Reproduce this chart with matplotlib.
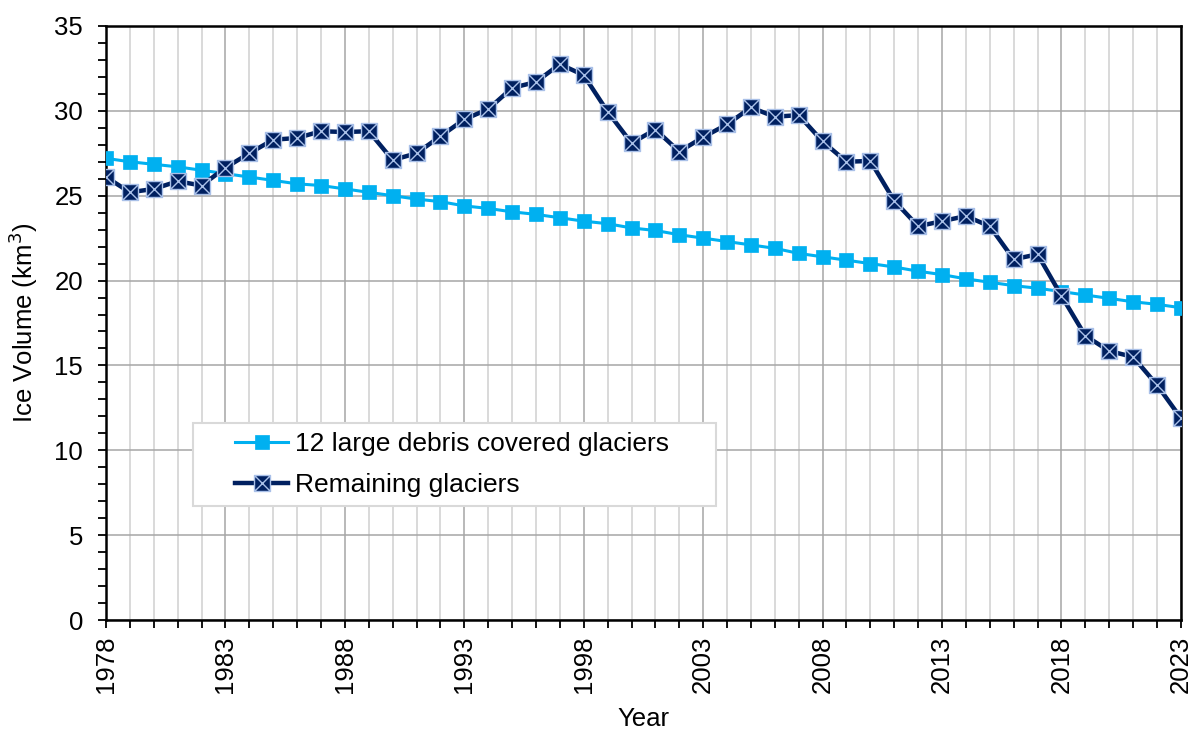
import matplotlib
matplotlib.use("Agg")
import matplotlib.pyplot as plt
from matplotlib.path import Path
from matplotlib.patches import Rectangle
from matplotlib.ticker import MultipleLocator

years = list(range(1978, 2024))
debris_covered = [27.2, 27.0, 26.85, 26.7, 26.5, 26.3, 26.1, 25.9, 25.7, 25.6,
                  25.4, 25.2, 25.0, 24.8, 24.65, 24.4, 24.25, 24.05, 23.9, 23.7,
                  23.5, 23.35, 23.1, 22.95, 22.7, 22.5, 22.3, 22.1, 21.9, 21.6,
                  21.4, 21.2, 21.0, 20.8, 20.55, 20.35, 20.1, 19.9, 19.7, 19.55,
                  19.35, 19.15, 18.95, 18.75, 18.6, 18.4]
remaining = [26.1, 25.2, 25.4, 25.85, 25.6, 26.65, 27.5, 28.3, 28.4, 28.8,
             28.75, 28.8, 27.1, 27.5, 28.5, 29.5, 30.1, 31.35, 31.7, 32.75,
             32.1, 29.95, 28.1, 28.9, 27.6, 28.45, 29.2, 30.2, 29.65, 29.75,
             28.2, 27.0, 27.05, 24.7, 23.2, 23.5, 23.8, 23.2, 21.25, 21.55,
             19.1, 16.75, 15.85, 15.5, 13.85, 11.9]
series_labels = ["12 large debris covered glaciers", "Remaining glaciers"]
x_tick_years = list(range(1978, 2024, 5))

LIGHT = "#00B0F0"
DARK = "#002060"

# square marker with an X inside
verts = [(-1, -1), (1, -1), (1, 1), (-1, 1), (-1, -1),
         (-1, -1), (1, 1), (-1, 1), (1, -1)]
codes = [Path.MOVETO, Path.LINETO, Path.LINETO, Path.LINETO, Path.CLOSEPOLY,
         Path.MOVETO, Path.LINETO, Path.MOVETO, Path.LINETO]
box_x = Path(verts, codes)

plt.rcParams['font.family'] = ['Liberation Sans', 'DejaVu Sans']

fig = plt.figure(figsize=(11.94, 7.36), dpi=100)
ax = fig.add_axes([0.0888, 0.1576, 0.9002, 0.8071])

ax.plot(years, debris_covered, color=LIGHT, lw=2.2, marker='s', ms=10.5,
        mfc=LIGHT, mec=LIGHT, mew=0.5, label=series_labels[0], zorder=3)
ax.plot(years, remaining, color=DARK, lw=3.2, marker=box_x, ms=11.5,
        mfc=DARK, mec="#A9C0E8", mew=1.0, label=series_labels[1], zorder=4)

ax.set_xlim(1978, 2023)
ax.set_ylim(0, 35)
ax.set_xticks(x_tick_years)
ax.set_xticklabels([str(y) for y in x_tick_years], rotation=90)
ax.xaxis.set_minor_locator(MultipleLocator(1))
ax.yaxis.set_major_locator(MultipleLocator(5))
ax.yaxis.set_minor_locator(MultipleLocator(1))

ax.grid(which='major', axis='both', color='#A6A6A6', lw=1.1, zorder=0)
ax.grid(which='minor', axis='x', color='#D0D0D0', lw=1.1, zorder=0)
ax.set_axisbelow(True)

ax.tick_params(which='both', direction='out', length=5.5, width=1.3,
               labelsize=18.5, color='black')
ax.tick_params(axis='y', which='major', pad=11)
ax.tick_params(axis='x', which='major', pad=6)
for s in ax.spines.values():
    s.set_color('black')
    s.set_linewidth(1.8)

ax.set_xlabel("Year", fontsize=18.5, labelpad=10)
ax.set_ylabel("Ice Volume (km$^3$)", fontsize=18.5, labelpad=10)

# legend frame
ax.add_patch(Rectangle((0.0807, 0.1924), 0.487, 0.1387, transform=ax.transAxes,
                       facecolor='white', edgecolor='#D9D9D9', lw=1.5, zorder=5))
leg = ax.legend(loc='center left', bbox_to_anchor=(0.1202, 0.262),
                frameon=False, fontsize=19, handlelength=2.0,
                handletextpad=0.25, labelspacing=0.65, borderpad=0,
                borderaxespad=0)
leg.set_zorder(6)

fig.savefig("out.png", dpi=100)
